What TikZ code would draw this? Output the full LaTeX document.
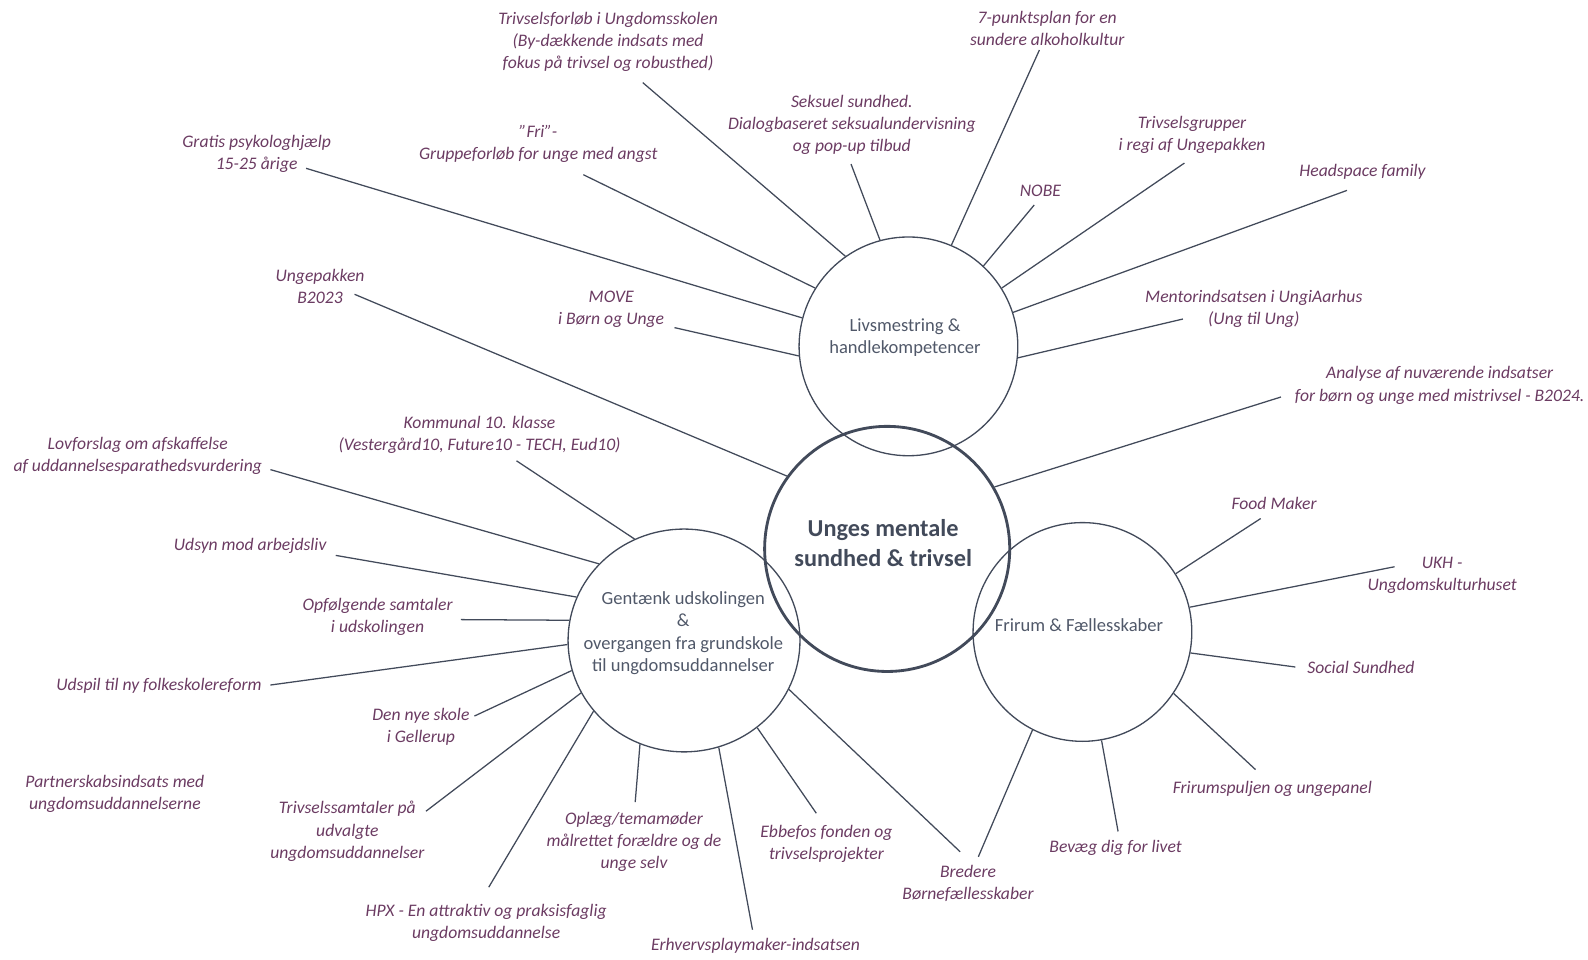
\documentclass[tikz,border=0pt]{standalone}
\usepackage{fontspec}
\setmainfont{Carlito}
\usetikzlibrary{shapes.geometric}
\definecolor{plum}{HTML}{6B3B62}
\definecolor{slate}{HTML}{424A5A}
\definecolor{hubtext}{HTML}{505869}

\begin{document}
\begin{tikzpicture}[x=1pt,y=-1pt,
  lbl/.style={font=\fontsize{17.4}{21.8}\selectfont\itshape, text=plum, align=center, inner sep=0pt},
  ring/.style={draw=slate, line width=1.3pt, inner sep=0pt},
  hubtxt/.style={text=hubtext, align=center, inner sep=0pt, font=\fontsize{18.3}{22}\selectfont},
  coretxt/.style={text=slate, align=center, inner sep=0pt, font=\fontsize{24}{29.6}\selectfont\bfseries},
  link/.style={draw=slate, line width=1.25pt}]

\useasboundingbox (0,0) rectangle (1568,947);

% ---- the four circles ----
\node[ring, circle, minimum size=216pt] (T) at (897,342) {};
\node[ring, ellipse, minimum width=229pt, minimum height=220pt] (L) at (675.4,632.4) {};
\node[ring, circle, minimum size=216pt] (R) at (1068.8,624) {};
\node[ring, circle, line width=2.8pt, minimum size=242pt] (C) at (876,542) {};

\node[hubtxt] (Ttxt) at (893.6,333.3) {Livsmestring \&\\handlekompetencer};
\node[hubtxt] (Ltxt) at (674.7,625.3) {Gentænk udskolingen\\\&\\overgangen fra grundskole\\til ungdomsuddannelser};
\node[hubtxt] (Rtxt) at (1065.4,617.1) {Frirum \& Fællesskaber};
\node[coretxt] (Ctxt) at (872,536.5) {Unges mentale\\sundhed \& trivsel};

% ---- labels around the top circle ----
\node[lbl] (a1) at (600.4,41.5) {Trivselsforløb i Ungdomsskolen\\(By-dækkende indsats med\\fokus på trivsel og robusthed)};
\node[lbl] (a2) at (531.5,142) {”Fri”-\\Gruppeforløb for unge med angst};
\node[lbl] (a3) at (253.4,152.3) {Gratis psykologhjælp\\15-25 årige};
\node[lbl] (a4) at (603.5,305.8) {MOVE\\i Børn og Unge};
\node[lbl] (a5) at (841.1,123.4) {Seksuel sundhed.\\Dialogbaseret seksualundervisning\\og pop-up tilbud};
\node[lbl] (a6) at (1034,27.7) {7-punktsplan for en\\sundere alkoholkultur};
\node[lbl] (a7) at (1027.3,188.3) {NOBE};
\node[lbl] (a8) at (1177,133.1) {Trivselsgrupper\\i regi af Ungepakken};
\node[lbl] (a9) at (1345.3,169.5) {Headspace family};
\node[lbl] (a10) at (1238,305) {Mentorindsatsen i UngiAarhus\\(Ung til Ung)};

% ---- labels tied to the centre ----
\node[lbl] (b1) at (316,283.2) {Ungepakken\\B2023};
\node[lbl] (b2) at (1421.5,380.5) {Analyse af nuværende indsatser\\for børn og unge med mistrivsel - B2024.};

% ---- labels around the left circle ----
\node[lbl] (c1) at (473.5,429.3) {Kommunal 10. klasse\\(Vestergård10, Future10 - TECH, Eud10)};
\node[lbl] (c2) at (136,450.5) {Lovforslag om afskaffelse\\af uddannelsesparathedsvurdering};
\node[lbl] (c3) at (247,539.5) {Udsyn mod arbejdsliv};
\node[lbl] (c4) at (372.8,609.5) {Opfølgende samtaler\\i udskolingen};
\node[lbl] (c5) at (157,677) {Udspil til ny folkeskolereform};
\node[lbl] (c6) at (415.6,717.3) {Den nye skole\\i Gellerup};
\node[lbl] (c7) at (113.4,784.1) {Partnerskabsindsats med\\ungdomsuddannelserne};
\node[lbl] (c8) at (343,820.8) {Trivselssamtaler på\\udvalgte\\ungdomsuddannelser};
\node[lbl] (c9) at (480,911.5) {HPX - En attraktiv og praksisfaglig\\ungdomsuddannelse};
\node[lbl] (c10) at (626,831.3) {Oplæg/temamøder\\målrettet forældre og de\\unge selv};
\node[lbl] (c11) at (746,934) {Erhvervsplaymaker-indsatsen};
\node[lbl] (c12) at (816,833) {Ebbefos fonden og\\trivselsprojekter};

% ---- labels around the right circle ----
\node[lbl] (d1) at (955.8,872.2) {Bredere\\Børnefællesskaber};
\node[lbl] (d2) at (1101.6,836.8) {Bevæg dig for livet};
\node[lbl] (d3) at (1256.3,778.6) {Frirumspuljen og ungepanel};
\node[lbl] (d4) at (1343.8,659.5) {Social Sundhed};
\node[lbl] (d5) at (1424,567.8) {UKH -\\Ungdomskulturhuset};
\node[lbl] (d6) at (1258,497.2) {Food Maker};

% ---- free ends of the connectors ----
\coordinate (p1) at (634.7,81.6);
\coordinate (p2) at (576,172.5);
\coordinate (p3) at (302.2,166.2);
\coordinate (p4) at (666,323.5);
\coordinate (p5) at (840.3,162);
\coordinate (p6) at (1026.3,49.4);
\coordinate (p7) at (1021.2,202.4);
\coordinate (p8) at (1169.5,161);
\coordinate (p9) at (1330,188);
\coordinate (p10) at (1168,315);
\coordinate (q1) at (350.1,290.6);
\coordinate (q2) at (1264.8,392);
\coordinate (r1) at (510,455);
\coordinate (r2) at (267,463.7);
\coordinate (r3) at (331.5,548.4);
\coordinate (r4) at (455,611.8);
\coordinate (r5) at (267,676.4);
\coordinate (r6) at (468.5,707);
\coordinate (r8) at (420.6,801);
\coordinate (r9) at (482.6,876);
\coordinate (r10) at (627.2,792);
\coordinate (r11) at (743,918);
\coordinate (r12) at (806,803);
\coordinate (s1a) at (948,841);
\coordinate (s1b) at (966,846);
\coordinate (s2) at (1104,821);
\coordinate (s3) at (1239.7,759.9);
\coordinate (s4) at (1279,658.6);
\coordinate (s5) at (1377,559.6);
\coordinate (s6) at (1244.8,512);

% ---- connectors ----
\draw[link] (p1) -- (T.125.5);
\draw[link] (p2) -- (T.148.5);
\draw[link] (p3) -- (T.165);
\draw[link] (p4) -- (T.185.4);
\draw[link] (p5) -- (T.105.2);
\draw[link] (p6) -- (T.67.7);
\draw[link] (p7) -- (T.47.3);
\draw[link] (p8) -- (T.32.7);
\draw[link] (p9) -- (T.18.3);
\draw[link] (p10) -- (T.-6.3);

\draw[link] (q1) -- (C.144.9);
\draw[link] (q2) -- (C.30.3);

\draw[link] (r1) -- (L.116.4);
\draw[link] (r2) -- (L.138.4);
\draw[link] (r3) -- (L.158);
\draw[link] (r4) -- (L.170.2);
\draw[link] (r5) -- (L.182.6);
\draw[link] (r6) -- (L.195.4);
\draw[link] (r8) -- (L.207);
\draw[link] (r9) -- (L.218);
\draw[link] (r10) -- (L.247.8);
\draw[link] (r11) -- (L.288.9);
\draw[link] (r12) -- (L.-50.1);
\draw[link] (s1a) -- (L.-25.1);

\draw[link] (s1b) -- (R.243.5);
\draw[link] (s2) -- (R.280.7);
\draw[link] (s3) -- (R.-34.1);
\draw[link] (s4) -- (R.-11.4);
\draw[link] (s5) -- (R.13);
\draw[link] (s6) -- (R.32.2);
\end{tikzpicture}
\end{document}
